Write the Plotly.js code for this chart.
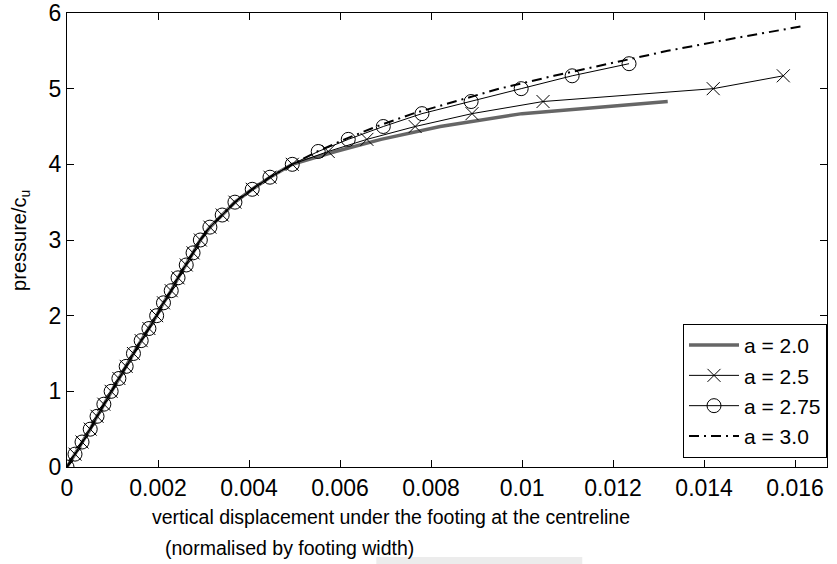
<!DOCTYPE html>
<html>
<head>
<meta charset="utf-8">
<script src="https://cdn.plot.ly/plotly-3.0.1.min.js"></script>
<style>html,body{margin:0;padding:0;background:#fff;}#chart{width:837px;height:564px;}</style>
</head>
<body>
<div id="chart"></div>
<script>
// Shared early (elastic) part of all curves
const earlyDisp = [0, 0.000176, 0.00033, 0.00051, 0.00066, 0.00081, 0.00097, 0.00114, 0.0013, 0.00146, 0.00163, 0.0018, 0.00197, 0.00212, 0.00229, 0.00244, 0.00262, 0.00277, 0.00293, 0.00314, 0.00341, 0.00369, 0.00407, 0.00446, 0.00495];
const earlyPress = [0, 0.17, 0.33, 0.5, 0.67, 0.83, 1.0, 1.17, 1.33, 1.5, 1.67, 1.83, 2.0, 2.17, 2.33, 2.5, 2.67, 2.83, 3.0, 3.17, 3.33, 3.5, 3.67, 3.83, 4.0];

// Later parts of each curve
const dispA20 = [0.0059, 0.0069, 0.0082, 0.0100, 0.0132];
const pressA20 = [4.17, 4.33, 4.5, 4.67, 4.83];

const dispA25 = [0.00574, 0.00659, 0.00765, 0.0089, 0.01046, 0.0142, 0.01574];
const pressA25 = [4.17, 4.33, 4.5, 4.67, 4.83, 5.0, 5.17];

const dispA275 = [0.00552, 0.00618, 0.00695, 0.0078, 0.00888, 0.00998, 0.0111, 0.01235];
const pressA275 = [4.17, 4.33, 4.5, 4.67, 4.83, 5.0, 5.17, 5.33];

const dispA30 = [0.0055, 0.0061, 0.0068, 0.0076, 0.0085, 0.0095, 0.0107, 0.0119, 0.0132, 0.0147, 0.0162];
const pressA30 = [4.17, 4.33, 4.5, 4.67, 4.83, 5.0, 5.17, 5.33, 5.5, 5.67, 5.83];

const seriesNames = ['a = 2.0', 'a = 2.5', 'a = 2.75', 'a = 3.0'];
const xTickVals = [0, 0.002, 0.004, 0.006, 0.008, 0.01, 0.012, 0.014, 0.016];
const xTickText = ['0', '0.002', '0.004', '0.006', '0.008', '0.01', '0.012', '0.014', '0.016'];
const yTickVals = [0, 1, 2, 3, 4, 5, 6];

const FONT = 'Liberation Sans, Arial, Helvetica, sans-serif';

const traces = [
  {x: earlyDisp.concat(dispA20), y: earlyPress.concat(pressA20), name: seriesNames[0], mode: 'lines',
   line: {color: '#666666', width: 3.5}},
  {x: earlyDisp.concat(dispA25), y: earlyPress.concat(pressA25), name: seriesNames[1], mode: 'lines+markers',
   line: {color: '#000', width: 1}, marker: {symbol: 'x-thin-open', size: 13, color: '#000', line: {color: '#000', width: 1}}},
  {x: earlyDisp.concat(dispA275), y: earlyPress.concat(pressA275), name: seriesNames[2], mode: 'lines+markers',
   line: {color: '#000', width: 1}, marker: {symbol: 'circle-open', size: 14, color: '#000', line: {color: '#000', width: 1}}},
  {x: earlyDisp.concat(dispA30), y: earlyPress.concat(pressA30), name: seriesNames[3], mode: 'lines',
   line: {color: '#000', width: 2, dash: '10px,5px,2px,5px'}}
];

const layout = {
  width: 837, height: 564,
  margin: {l: 67, r: 10, t: 13, b: 97},
  paper_bgcolor: '#fff', plot_bgcolor: '#fff',
  font: {family: FONT, size: 20, color: '#000'},
  showlegend: true,
  legend: {x: 1, xanchor: 'right', y: 0.02, yanchor: 'bottom', bgcolor: '#fff', bordercolor: '#000', borderwidth: 1,
           font: {family: FONT, size: 21, color: '#000'}, itemwidth: 50, tracegroupgap: 0},
  xaxis: {range: [0, 0.0167], tickvals: xTickVals, ticktext: xTickText, ticks: 'inside', ticklen: 7, tickcolor: '#000',
          showline: true, linecolor: '#000', linewidth: 1, mirror: 'ticks', showgrid: false, zeroline: false,
          tickfont: {family: FONT, size: 23, color: '#000'}},
  yaxis: {range: [0, 6], tickvals: yTickVals, ticks: 'inside', ticklen: 7, tickcolor: '#000',
          showline: true, linecolor: '#000', linewidth: 1, mirror: 'ticks', showgrid: false, zeroline: false,
          tickfont: {family: FONT, size: 23, color: '#000'}},
  annotations: [
    {text: 'vertical displacement under the footing at the centreline', xref: 'paper', yref: 'paper',
     x: 0.426, y: -0.110, xanchor: 'center', yanchor: 'middle', showarrow: false, font: {family: FONT, size: 19.5, color: '#000'}},
    {text: '(normalised by footing width)', xref: 'paper', yref: 'paper',
     x: 0.126, y: -0.178, xanchor: 'left', yanchor: 'middle', showarrow: false, font: {family: FONT, size: 19.5, color: '#000'}},
    {text: 'pressure/c<sub>u</sub>', xref: 'paper', yref: 'paper', textangle: -90,
     x: -0.062, y: 0.5, xanchor: 'center', yanchor: 'middle', showarrow: false, font: {family: FONT, size: 20, color: '#000'}}
  ],
  shapes: [
    {type: 'rect', xref: 'paper', yref: 'paper', x0: 0.407, x1: 0.678, y0: -0.214, y1: -0.198,
     fillcolor: '#ececec', line: {width: 0}, layer: 'below'}
  ]
};

Plotly.newPlot('chart', traces, layout, {displayModeBar: false, staticPlot: true});
</script>
</body>
</html>
